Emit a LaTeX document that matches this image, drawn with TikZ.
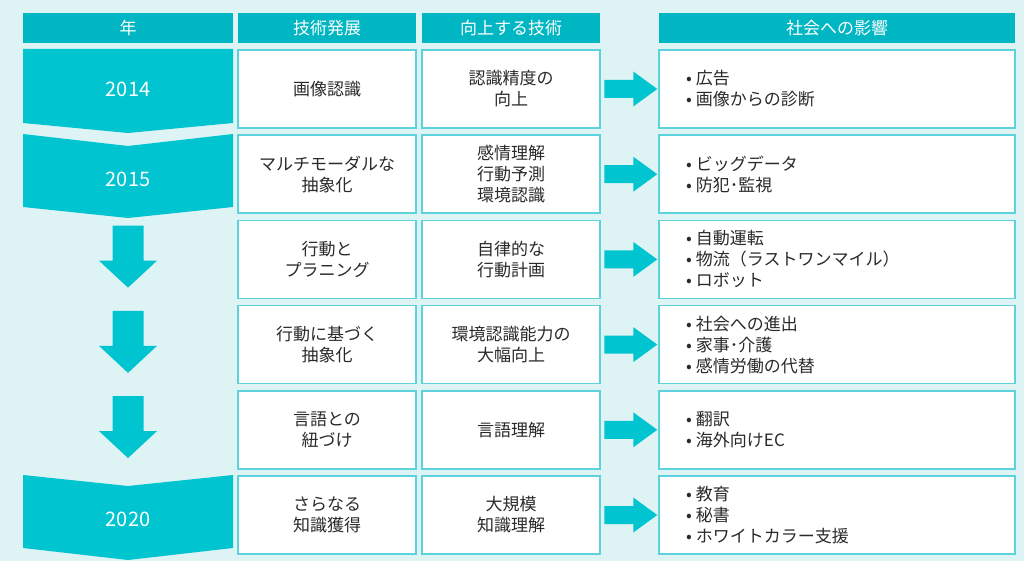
\documentclass[tikz,border=0pt]{standalone}
\usepackage{fontspec}
\setmainfont{Noto Sans CJK JP}
\definecolor{paper}{HTML}{DDF3F4}
\definecolor{headteal}{HTML}{00B6C2}
\definecolor{flowteal}{HTML}{00C4D0}
\definecolor{frameteal}{HTML}{5CD3DC}
\definecolor{ink}{HTML}{2A2A2A}
\newcommand\bul{\makebox[14pt][c]{•}}
\tikzset{
  cell/.style={draw=frameteal, line width=1.5pt, fill=white, minimum height=78pt,
    inner sep=0pt, align=center, text=ink, font=\fontsize{17}{21}\selectfont},
  impact/.style={cell, minimum width=356pt, text width=310pt, inner xsep=23pt, align=left},
  headcell/.style={fill=headteal, minimum height=30pt, inner sep=0pt, text=white,
    font=\fontsize{17}{21}\selectfont},
  yearlabel/.style={text=white, font=\fontsize{20}{24}\selectfont},
  flow/.style={fill=flowteal}
}
\begin{document}
\begin{tikzpicture}[x=1pt,y=-1pt]
\fill[paper] (0,0) rectangle (1024,561);
\useasboundingbox (0,0) rectangle (1024,561);

\node[headcell, minimum width=210pt] (hyear) at (128,28) {年};
\node[headcell, minimum width=178pt] (hdev) at (327,28) {技術発展};
\node[headcell, minimum width=178pt] (htech) at (511,28) {向上する技術};
\node[headcell, minimum width=356pt] (himpact) at (837,28) {社会への影響};

\fill[flowteal] (23,49)--(233,49)--(233,123)--(128,133)--(23,123)--cycle;
\fill[flowteal] (23,134)--(128,146)--(233,134)--(233,207)--(128,218)--(23,207)--cycle;
\fill[flowteal] (23,475)--(128,486)--(233,475)--(233,548)--(128,560)--(23,548)--cycle;
\node[yearlabel] (y2014) at (128,89) {2014};
\node[yearlabel] (y2015) at (128,179) {2015};
\node[yearlabel] (y2020) at (128,519) {2020};

\node[cell, minimum width=178pt] (d1) at (327,89) {画像認識};
\node[cell, minimum width=178pt] (d2) at (327,174.2) {マルチモーダルな\\抽象化};
\node[cell, minimum width=178pt] (d3) at (327,259.4) {行動と\\プラニング};
\node[cell, minimum width=178pt] (d4) at (327,344.6) {行動に基づく\\抽象化};
\node[cell, minimum width=178pt] (d5) at (327,429.8) {言語との\\紐づけ};
\node[cell, minimum width=178pt] (d6) at (327,515) {さらなる\\知識獲得};

\node[cell, minimum width=178pt] (t1) at (511,89) {認識精度の\\向上};
\node[cell, minimum width=178pt] (t2) at (511,174.2) {感情理解\\行動予測\\環境認識};
\node[cell, minimum width=178pt] (t3) at (511,259.4) {自律的な\\行動計画};
\node[cell, minimum width=178pt] (t4) at (511,344.6) {環境認識能力の\\大幅向上};
\node[cell, minimum width=178pt] (t5) at (511,429.8) {言語理解};
\node[cell, minimum width=178pt] (t6) at (511,515) {大規模\\知識理解};

\node[impact] (s1) at (837,89) {\bul 広告\\\bul 画像からの診断};
\node[impact] (s2) at (837,174.2) {\bul ビッグデータ\\\bul 防犯･監視};
\node[impact] (s3) at (837,259.4) {\bul 自動運転\\\bul 物流（ラストワンマイル）\\\bul ロボット};
\node[impact] (s4) at (837,344.6) {\bul 社会への進出\\\bul 家事･介護\\\bul 感情労働の代替};
\node[impact] (s5) at (837,429.8) {\bul 翻訳\\\bul 海外向けEC};
\node[impact] (s6) at (837,515) {\bul 教育\\\bul 秘書\\\bul ホワイトカラー支援};

\foreach \i in {3,4,5}
  \fill[flow, shift={(d\i.north -| y2014)}] (-15.5,6)--(15.5,6)--(15.5,41)--(29,41)
    --(0,68)--(-29,41)--(-15.5,41)--cycle;
\foreach \i in {1,...,6}
  \fill[flow, shift={(t\i.east)}] (3.5,-9)--(32.5,-9)--(32.5,-17.5)--(56.5,0)
    --(32.5,17.5)--(32.5,9)--(3.5,9)--cycle;
\end{tikzpicture}
\end{document}
